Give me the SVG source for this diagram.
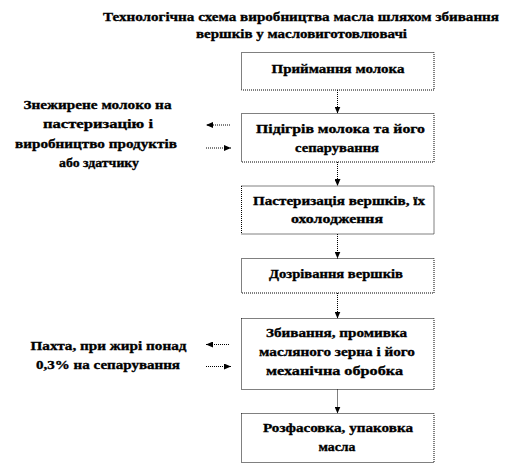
<svg xmlns="http://www.w3.org/2000/svg" width="532" height="465" viewBox="0 0 532 465">
<defs>
<marker id="ah" markerUnits="userSpaceOnUse" markerWidth="7" markerHeight="6" refX="7" refY="3" orient="auto">
<path d="M0,0 L7,3 L0,6 z" fill="#000"/>
</marker>
<style>
.t{font-family:'Liberation Serif','Times New Roman','DejaVu Serif',serif;font-weight:700;font-size:13.5px;fill:#000;stroke:#000;stroke-width:0.35;text-anchor:middle}
.b{fill:#fff;stroke:#000;stroke-width:1;stroke-dasharray:1 1}
.c{fill:none;stroke:#000;stroke-width:1;stroke-dasharray:1 1;marker-end:url(#ah)}
</style>
</defs>
<rect width="532" height="465" fill="#fff"/>
<g id="title">
<text class="t" x="301" y="21" textLength="396" lengthAdjust="spacingAndGlyphs">Технологічна  схема виробництва масла шляхом збивання</text>
<text class="t" x="301.5" y="38" textLength="211" lengthAdjust="spacingAndGlyphs">вершків  у масловиготовлювачі</text>
</g>
<g id="n1">
<rect class="b" x="241.5" y="52.5" width="192.5" height="37.5"/>
<text class="t" x="338" y="72.5" textLength="133" lengthAdjust="spacingAndGlyphs">Приймання молока</text>
</g>
<g id="n2">
<rect class="b" x="241.5" y="113.5" width="192.5" height="48.5"/>
<text class="t" x="340.5" y="133" textLength="169" lengthAdjust="spacingAndGlyphs">Підігрів  молока та його</text>
<text class="t" x="337" y="152" textLength="84" lengthAdjust="spacingAndGlyphs">сепарування</text>
</g>
<g id="n3">
<rect class="b" x="241.5" y="186" width="192.5" height="48"/>
<text class="t" x="339" y="205" textLength="172" lengthAdjust="spacingAndGlyphs">Пастеризація вершків,  їх</text>
<text class="t" x="337" y="223" textLength="92" lengthAdjust="spacingAndGlyphs">охолодження</text>
</g>
<g id="n4">
<rect class="b" x="241.5" y="258.5" width="192.5" height="34.5"/>
<text class="t" x="336" y="278" textLength="134" lengthAdjust="spacingAndGlyphs">Дозрівання вершків</text>
</g>
<g id="n5">
<rect class="b" x="241.5" y="318.5" width="192.5" height="71"/>
<text class="t" x="336.5" y="337" textLength="141" lengthAdjust="spacingAndGlyphs">Збивання, промивка</text>
<text class="t" x="337" y="356" textLength="156" lengthAdjust="spacingAndGlyphs">масляного зерна і його</text>
<text class="t" x="334.5" y="375" textLength="137" lengthAdjust="spacingAndGlyphs">механічна обробка</text>
</g>
<g id="n6">
<rect class="b" x="241.5" y="413.5" width="192.5" height="49"/>
<text class="t" x="338" y="432" textLength="150" lengthAdjust="spacingAndGlyphs">Розфасовка,  упаковка</text>
<text class="t" x="337" y="451" textLength="37" lengthAdjust="spacingAndGlyphs">масла</text>
</g>
<g id="side1">
<text class="t" x="97.5" y="109" textLength="148" lengthAdjust="spacingAndGlyphs">Знежирене молоко на</text>
<text class="t" x="98" y="128" textLength="110" lengthAdjust="spacingAndGlyphs">пастеризацію і</text>
<text class="t" x="96" y="148" textLength="162" lengthAdjust="spacingAndGlyphs">виробництво продуктів</text>
<text class="t" x="99" y="167" textLength="80" lengthAdjust="spacingAndGlyphs">або здатчику</text>
</g>
<g id="side2">
<text class="t" x="108.5" y="350" textLength="156" lengthAdjust="spacingAndGlyphs">Пахта, при жирі понад</text>
<text class="t" x="108" y="369" textLength="144" lengthAdjust="spacingAndGlyphs">0,3% на сепарування</text>
</g>
<g id="connectors">
<line class="c" x1="337.5" y1="90" x2="337.5" y2="113.5"/>
<line class="c" x1="337.5" y1="162" x2="337.5" y2="186"/>
<line class="c" x1="337.5" y1="234" x2="337.5" y2="258.5"/>
<line class="c" x1="337.5" y1="293" x2="337.5" y2="318.5"/>
<line class="c" x1="337.5" y1="389.5" x2="337.5" y2="413.5"/>
<line class="c" x1="230" y1="125" x2="206" y2="125"/>
<line class="c" x1="206" y1="148" x2="231" y2="148"/>
<line class="c" x1="229" y1="344.5" x2="206" y2="344.5"/>
<line class="c" x1="206" y1="366.5" x2="231" y2="366.5"/>
</g>
</svg>
